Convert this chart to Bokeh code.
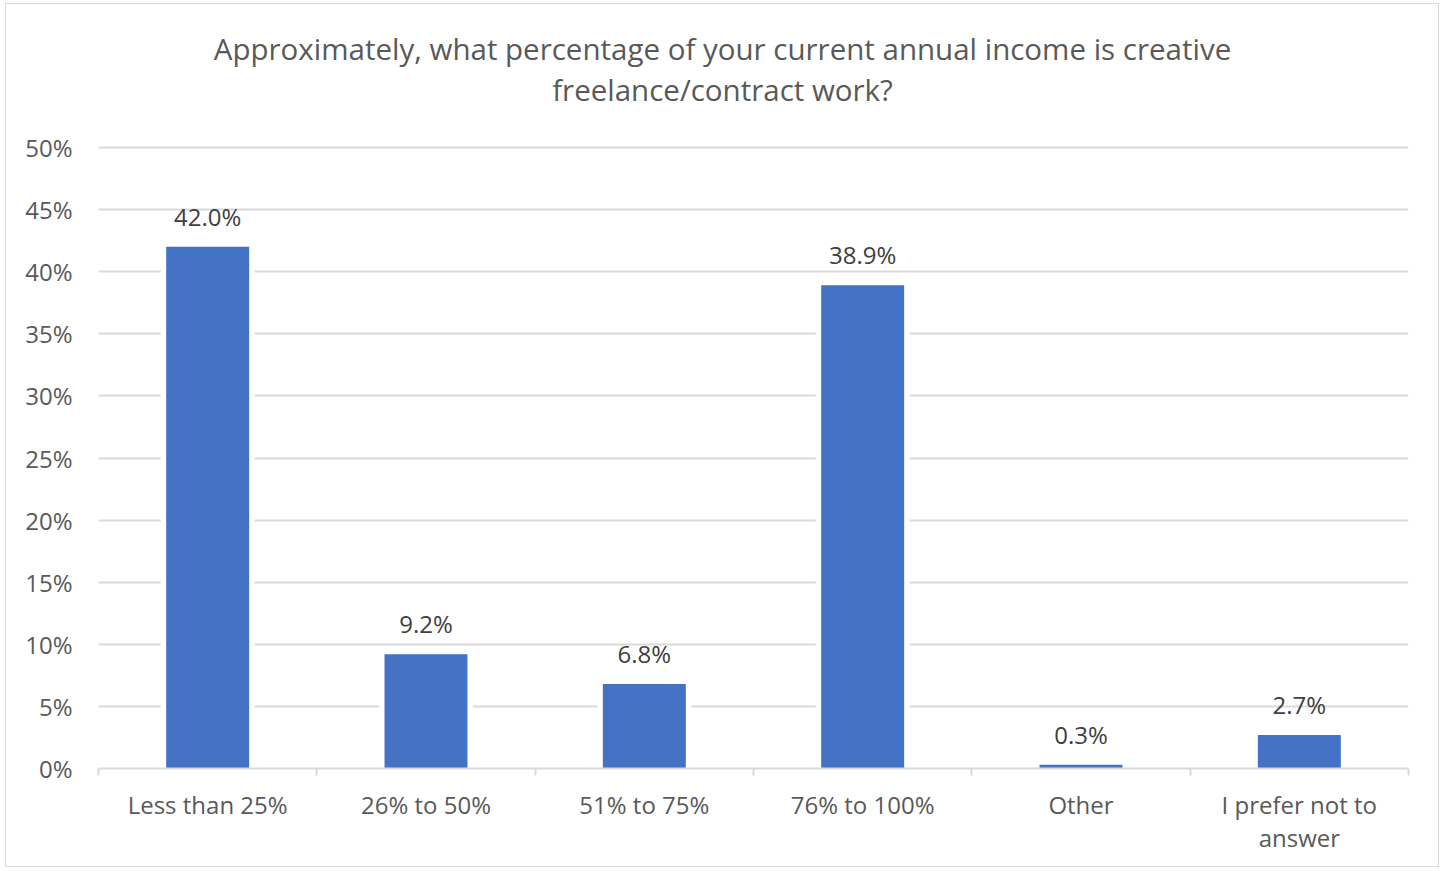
from bokeh.plotting import figure
from bokeh.models import Range1d, FixedTicker, ColumnDataSource
from bokeh.embed import file_html
from bokeh.resources import INLINE
from bokeh.core.properties import value

categories = ["Less than 25%", "26% to 50%", "51% to 75%", "76% to 100%", "Other", "I prefer not to\nanswer"]
values = [42.0, 9.2, 6.8, 38.9, 0.3, 2.7]
value_labels = ["42.0%", "9.2%", "6.8%", "38.9%", "0.3%", "2.7%"]
y_ticks = [0, 5, 10, 15, 20, 25, 30, 35, 40, 45, 50]
title_lines = ["Approximately, what percentage of your current annual income is creative",
               "freelance/contract work?"]

FONT = "Open Sans"
TXT = "#595959"

# frame spans the full height; the area above 50% holds the title
Y_TOP = 50 * 764 / 621
title_x = len(categories) * (722 - 98) / 1310
title_y = [50 * (764 - 44) / 621, 50 * (764 - 85) / 621]

xs = [i + 0.5 for i in range(len(categories))]
src = ColumnDataSource(dict(x=xs, top=values, lab=value_labels))

p = figure(width=1434, height=864, output_backend="svg", toolbar_location=None,
           title_location=None,
           x_range=Range1d(0, len(categories)), y_range=Range1d(0, Y_TOP),
           min_border_left=92, min_border_right=32, min_border_top=0, min_border_bottom=100)
p.styles = {"margin-left": "5px", "margin-top": "3px", "border": "1px solid #d9d9d9"}
p.outline_line_color = None
p.background_fill_color = "white"

p.text(x=[title_x, title_x], y=title_y, text=title_lines, text_align="center",
       text_baseline="middle", text_font=value(FONT), text_font_size="29.5px", text_color=TXT)

# white halo behind bars to interrupt gridlines
p.vbar(x="x", top="top", width=0.43, source=src, fill_color="white", line_color=None)
p.vbar(x="x", top="top", width=0.38, source=src, fill_color="#4472C4", line_color=None)
p.text(x="x", y="top", text="lab", source=src, text_align="center", text_baseline="bottom",
       y_offset=-14, text_font=value(FONT), text_font_size="24px", text_color="#404040")

p.yaxis.ticker = FixedTicker(ticks=y_ticks)
p.yaxis.major_label_overrides = {v: f"{v}%" for v in y_ticks}
p.yaxis.axis_line_color = None
p.yaxis.major_tick_line_color = None
p.yaxis.minor_tick_line_color = None
p.yaxis.major_label_standoff = 20
p.yaxis.major_label_text_font = FONT
p.yaxis.major_label_text_font_size = "24px"
p.yaxis.major_label_text_color = TXT

p.xaxis.ticker = FixedTicker(ticks=xs, minor_ticks=list(range(len(categories) + 1)))
p.xaxis.major_label_overrides = {x: c for x, c in zip(xs, categories)}
p.xaxis.axis_line_color = "#d9d9d9"
p.xaxis.axis_line_width = 2
p.xaxis.major_tick_line_color = None
p.xaxis.minor_tick_line_color = "#d9d9d9"
p.xaxis.minor_tick_line_width = 2
p.xaxis.minor_tick_in = 0
p.xaxis.minor_tick_out = 7
p.xaxis.major_label_standoff = 12
p.xaxis.major_label_text_font = FONT
p.xaxis.major_label_text_font_size = "24px"
p.xaxis.major_label_text_color = TXT
p.xaxis.major_label_text_line_height = 1.0

p.xgrid.grid_line_color = None
p.ygrid.ticker = FixedTicker(ticks=y_ticks[1:])
p.ygrid.grid_line_color = "#d9d9d9"
p.ygrid.grid_line_width = 2

open("out.html", "w").write(file_html(p, INLINE))
